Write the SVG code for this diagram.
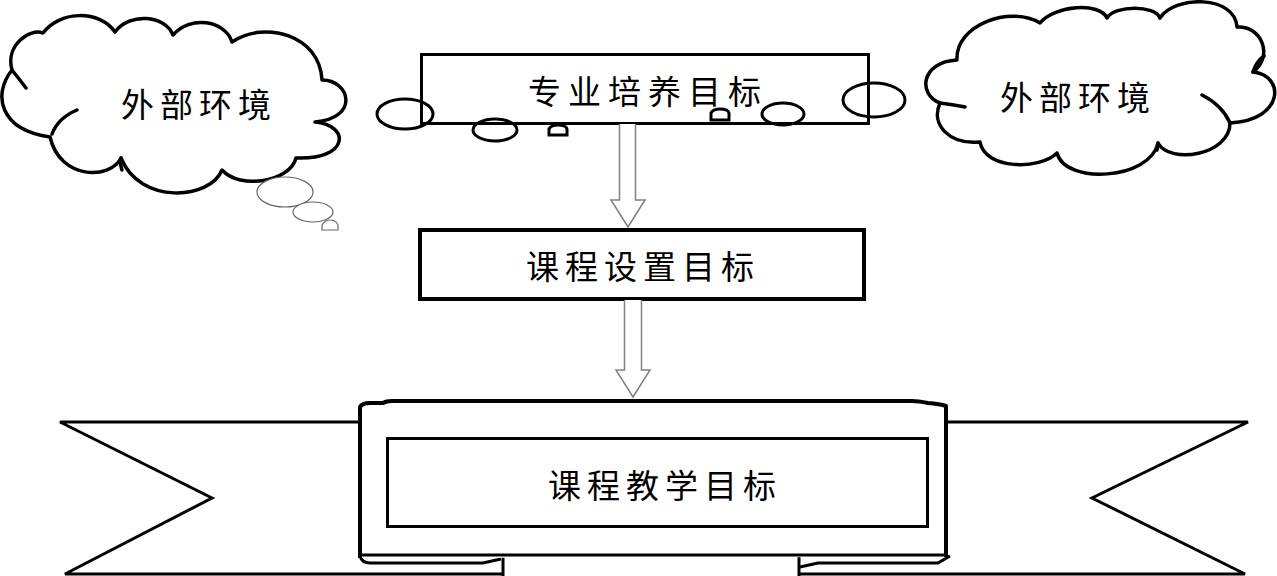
<svg xmlns="http://www.w3.org/2000/svg" width="1277" height="576" viewBox="0 0 1277 576">
<style>
.txt{font-family:"Noto Sans CJK SC","Noto Sans",sans-serif;font-size:33px;fill:#000;letter-spacing:6px}
.cloud{fill:#fff;stroke:#000;stroke-width:3.5;stroke-linejoin:round}
.curl{fill:none;stroke:#000;stroke-width:3.5;stroke-linecap:round}
.bub{fill:none;stroke:#000;stroke-width:3}
.thin{fill:#fff;stroke:#666;stroke-width:1.2}
.box{fill:#fff;stroke:#000}
.arrow{fill:#fff;stroke:#808080;stroke-width:1.5}
.rib{fill:none;stroke:#000;stroke-width:3;stroke-linejoin:miter}
</style>
<rect width="1277" height="576" fill="#fff"/>

<g id="cloud-left">
<path class="cloud" d="M12,70 C5,45 30,28 43,33 C60,10 100,10 115,32 C130,12 165,15 173,35 C190,15 225,20 232,42 C265,20 320,35 322,80 C350,80 360,118 315,122 C350,125 350,160 296,158 C290,182 240,190 222,170 C210,200 140,205 121,158 C110,180 60,180 50,137 C0,130 -8,95 12,70 Z"/>
<path class="curl" d="M12,70 Q20,80 26,88 M52,134 Q58,118 77,110 M121,158 Q120,165 122,170"/>
<ellipse class="thin" cx="285" cy="192" rx="28" ry="15"/>
<ellipse class="thin" cx="313" cy="212" rx="20" ry="10"/>
<path class="thin" d="M322,230 V225 Q325,220 330,220 Q336,220 338,225 V230 Z"/>
<text class="txt" x="121" y="117">外部环境</text>
</g>

<g id="cloud-right">
<path class="cloud" d="M940,103 C918,95 920,62 957,60 C955,25 1010,5 1040,23 C1055,5 1100,2 1107,18 C1115,5 1155,5 1160,18 C1175,-5 1235,-5 1237,27 C1260,25 1275,55 1253,72 C1285,75 1285,120 1230,123 C1230,155 1170,165 1158,143 C1150,180 1065,185 1057,153 C1040,170 985,170 980,142 C950,145 930,125 940,103 Z"/>
<path class="curl" d="M940,103 Q955,105 965,107 M1202,95 Q1222,105 1230,123 M1253,72 Q1256,62 1264,56 M1158,143 Q1158,146 1157,150"/>
<text class="txt" x="1000" y="110">外部环境</text>
</g>

<g id="node-zhuanye">
<rect class="box" x="421.5" y="54.5" width="447" height="69" stroke-width="3"/>
<text class="txt" x="528" y="104" style="letter-spacing:7px">专业培养目标</text>
<ellipse class="bub" cx="405" cy="114" rx="28" ry="15"/>
<ellipse class="bub" cx="495" cy="130" rx="22" ry="11"/>
<path class="bub" d="M549,135 V129 Q551,125 558,125 Q566,125 567,129 V135 Z"/>
<path class="bub" d="M711,120 V113 Q713,109 720,109 Q728,109 729,113 V120 Z"/>
<ellipse class="bub" cx="783" cy="114" rx="21" ry="11"/>
<ellipse class="bub" cx="874" cy="100" rx="31" ry="17"/>
</g>

<g id="node-kecheng-shezhi">
<rect class="box" x="420" y="230" width="444" height="69" stroke-width="4"/>
<text class="txt" x="526" y="279">课程设置目标</text>
</g>

<g id="node-kecheng-jiaoxue">
<path class="rib" d="M358,422 H60 L212,498 L65,574 H503"/>
<path class="rib" d="M948,422 H1248 L1092,498 L1245,574 H799"/>
<path class="rib" d="M503,555 V576 M799,555 V576"/>
<path class="rib" d="M360,556 Q362,563 370,563 H483 L501,559"/>
<path class="rib" d="M800,567 L818,563 H938 L950,556"/>
<path d="M360,558 V407 Q362,403 370,403 H383 Q386,401 392,401 H912 Q918,401 928,403 Q940,404 946,406 V557" fill="#fff" stroke="#000" stroke-width="4" stroke-linejoin="round"/>
<path class="rib" d="M360,555 H946"/>
<rect class="box" x="387.5" y="438.5" width="540" height="88" stroke-width="3"/>
<text class="txt" x="548" y="498">课程教学目标</text>
</g>

<g id="connectors">
<path class="arrow" d="M619.5,124 V200 H611 L628,227 L645,200 H635.5 V124"/>
<path class="arrow" d="M624.5,300 V370 H616 L633,397 L650,370 H641.5 V300"/>
</g>
</svg>
